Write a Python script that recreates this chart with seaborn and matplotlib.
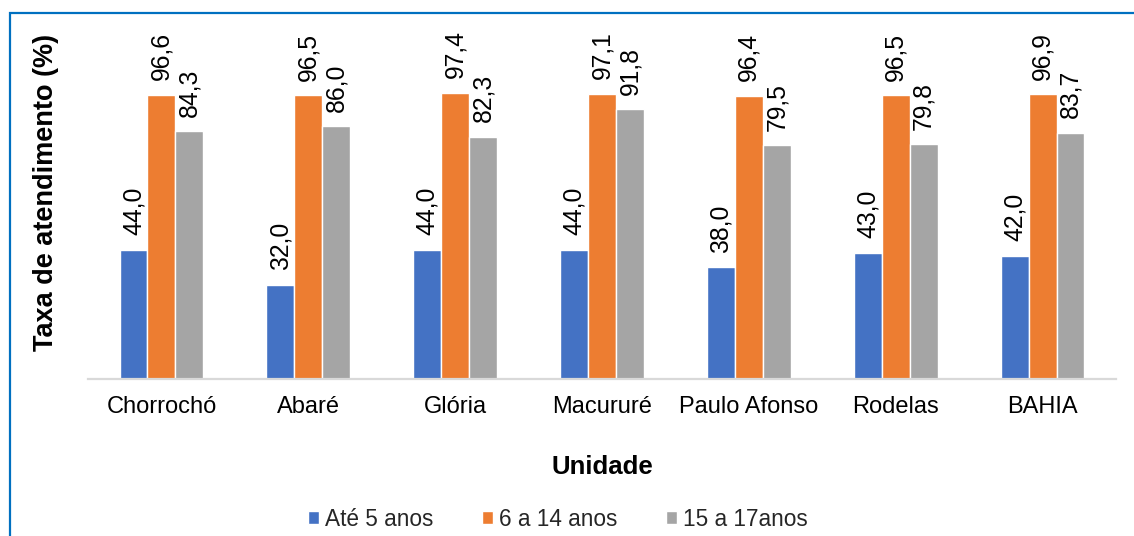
import matplotlib
matplotlib.use("Agg")
import matplotlib.pyplot as plt
from matplotlib.patches import Rectangle
import pandas as pd
import seaborn as sns

# Taxa de atendimento escolar por faixa etária e unidade territorial
unidades = ["Chorrochó", "Abaré", "Glória", "Macururé", "Paulo Afonso", "Rodelas", "BAHIA"]
faixas = ["Até 5 anos", "6 a 14 anos", "15 a 17anos"]
ate_5 = [44.0, 32.0, 44.0, 44.0, 38.0, 43.0, 42.0]
de_6_a_14 = [96.6, 96.5, 97.4, 97.1, 96.4, 96.5, 96.9]
de_15_a_17 = [84.3, 86.0, 82.3, 91.8, 79.5, 79.8, 83.7]
cores = ["#4472C4", "#ED7D31", "#A5A5A5"]

series = [ate_5, de_6_a_14, de_15_a_17]
df = pd.DataFrame(
    [(u, f, v) for f, vals in zip(faixas, series) for u, v in zip(unidades, vals)],
    columns=["Unidade", "Faixa", "Taxa"],
)

sns.set_theme(style="white")
plt.rcParams["font.family"] = ["Liberation Sans", "DejaVu Sans"]

fig = plt.figure(figsize=(11.34, 5.36), dpi=100)
ax = fig.add_axes([88 / 1134, 157 / 536, 1028 / 1134, 294 / 536])

sns.barplot(
    data=df, x="Unidade", y="Taxa", hue="Faixa",
    order=unidades, hue_order=faixas, palette=cores,
    width=0.571, saturation=1, ax=ax,
)

ax.set_ylim(0, 100)
ax.set_xlim(-0.5, len(unidades) - 0.5)

# Value labels above each bar, with decimal comma
for cont in ax.containers:
    labels = [f"{v:.1f}".replace(".", ",") for v in cont.datavalues]
    ax.bar_label(cont, labels=labels, rotation=90, padding=10.5,
                 fontsize=17.8, color="#000000")

for side in ["top", "right", "left"]:
    ax.spines[side].set_visible(False)
ax.spines["bottom"].set_color("#D9D9D9")
ax.spines["bottom"].set_linewidth(1.6)
ax.set_yticks([])
ax.tick_params(axis="x", length=0, pad=12.5, labelsize=17, labelcolor="#000000")

ax.set_xlabel("Unidade", fontsize=18.6, fontweight="bold", color="#000000")
ax.xaxis.label.set_va("center")
ax.xaxis.set_label_coords(0.5, (379 - 467) / 294)
ax.set_ylabel("Taxa de atendimento (%)", fontsize=19.5, fontweight="bold", color="#000000")
ax.yaxis.label.set_va("center")
ax.yaxis.set_label_coords((46 - 88) / 1028, (379 - 192) / 294)

handles, labels = ax.get_legend_handles_labels()
if ax.get_legend() is not None:
    ax.get_legend().remove()
fig.legend(
    handles, labels, loc="center", bbox_to_anchor=(558 / 1134, 17 / 536),
    ncol=3, frameon=False, fontsize=16.3, handlelength=0.5, handleheight=0.5,
    handletextpad=0.25, columnspacing=2.15,
)

# Frame around the chart
fig.add_artist(Rectangle((10 / 1134, -0.1), 1.2, 1.1 - 13 / 536,
                         transform=fig.transFigure, fill=False,
                         edgecolor="#0070C0", linewidth=1.6))

fig.savefig("out.png", dpi=100)
